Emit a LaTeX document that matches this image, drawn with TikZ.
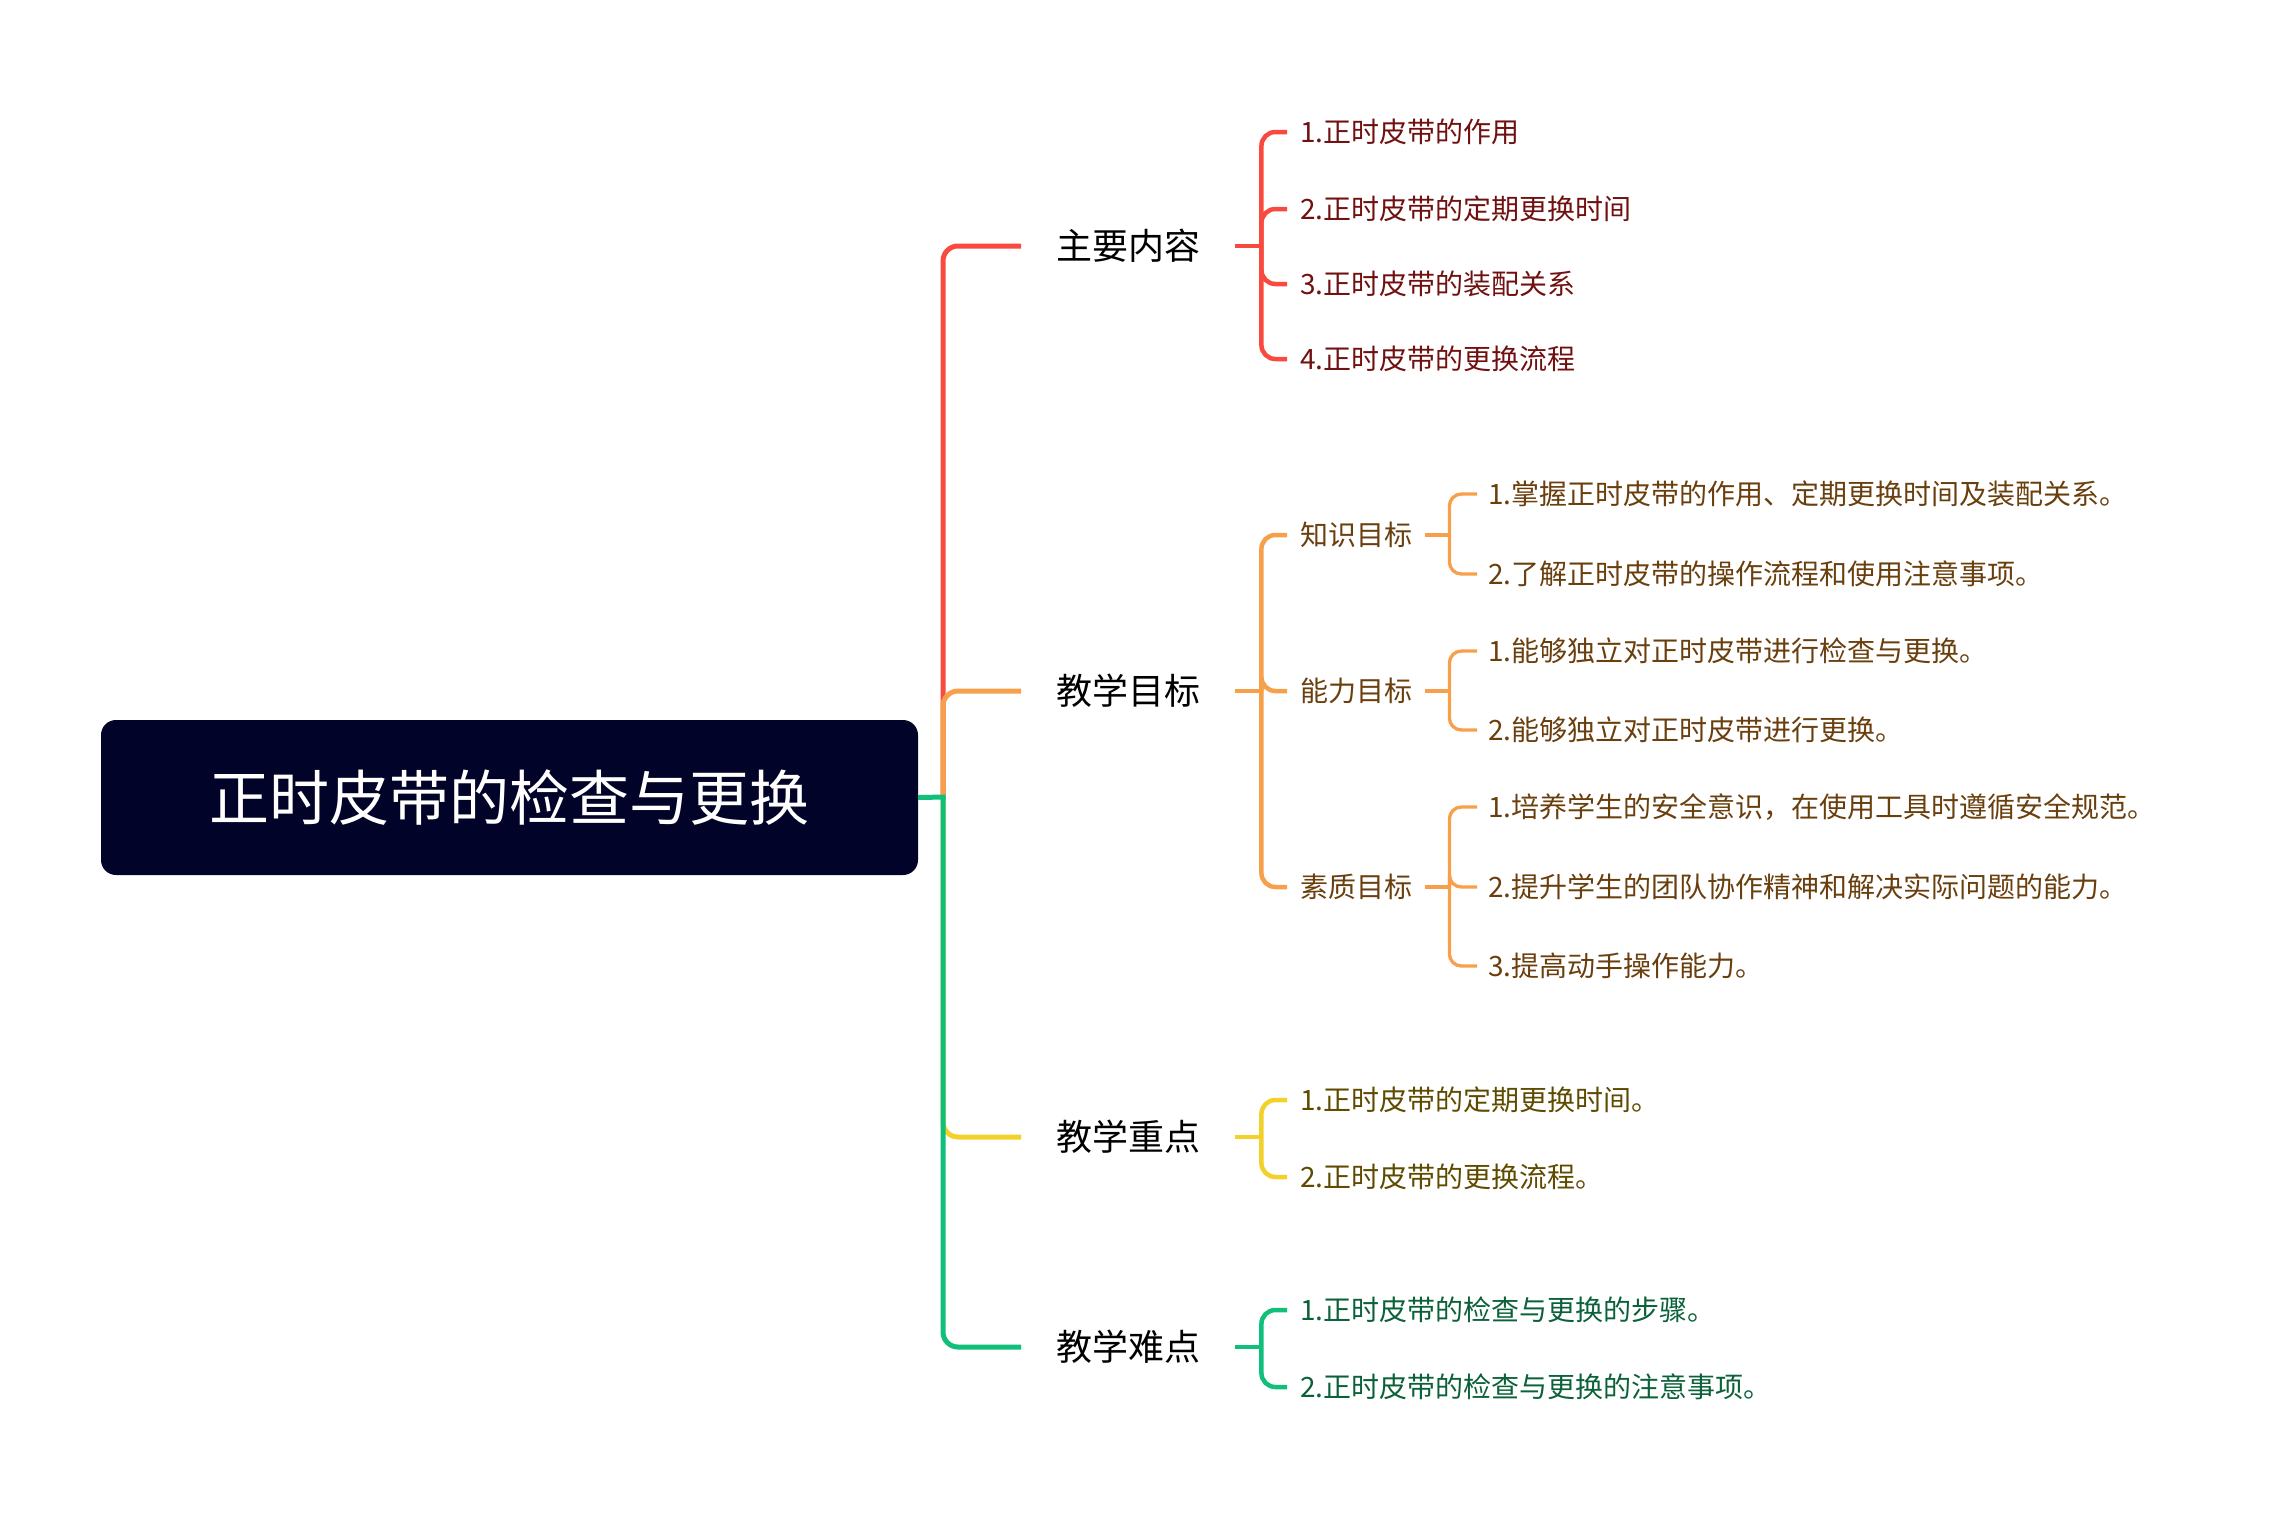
\documentclass[tikz,border=0pt]{standalone}
\usepackage{fontspec}
\setmainfont{Noto Sans CJK SC}
\usetikzlibrary{calc}

\definecolor{mapred}{HTML}{F84A3F}
\definecolor{maporange}{HTML}{F7A04B}
\definecolor{mapyellow}{HTML}{F3D12B}
\definecolor{mapgreen}{HTML}{10BF7A}
\definecolor{rootfill}{HTML}{020328}
\definecolor{redtext}{HTML}{701010}
\definecolor{orangetext}{HTML}{6A3F0E}
\definecolor{yellowtext}{HTML}{5E4B00}
\definecolor{greentext}{HTML}{0B6139}

\tikzset{
  rootbox/.style={fill=rootfill, rounded corners=15pt, minimum width=817pt,
    minimum height=155pt, text=white, font=\fontsize{60}{70}\selectfont},
  topic/.style={anchor=west, inner sep=0pt, text height=31.7pt, text depth=4.3pt,
    font=\fontsize{36}{40}\selectfont},
  leaf/.style={anchor=west, inner sep=0pt, text height=24.6pt, text depth=3.4pt,
    font=\fontsize{28}{31}\selectfont},
  trunkline/.style={line width=5pt, rounded corners=15pt},
  subline/.style={line width=4.5pt, rounded corners=14pt},
  leafline/.style={line width=3.3pt, rounded corners=12pt},
}

\begin{document}
\begin{tikzpicture}[x=1pt, y=-1pt]
  \useasboundingbox (0,0) rectangle (2272,1520);

  % root and hub
  \node[rootbox] (root) at (509.5,797.5) {正时皮带的检查与更换};
  \coordinate (hub) at (943,797);

  % main topics
  \node[topic] (zhuyao) at (1056,246) {主要内容};
  \node[topic] (mubiao) at (1056,691) {教学目标};
  \node[topic] (zhongdian) at (1056,1137) {教学重点};
  \node[topic] (nandian) at (1056,1347) {教学难点};

  \draw [trunkline, mapred]    (hub) |- ([xshift=-35pt]zhuyao.west);
  \draw [trunkline, maporange] (hub) |- ([xshift=-35pt]mubiao.west);
  \draw [trunkline, mapyellow] (hub) |- ([xshift=-35pt]zhongdian.west);
  \draw [line width=5pt, mapgreen] (root.east) -- ([xshift=2.5pt]hub);
  \draw [trunkline, mapgreen]  (hub) |- ([xshift=-35pt]nandian.west);

  % 主要内容
  \node[leaf, text=redtext] (zy1) at (1300,132) {1.正时皮带的作用};
  \node[leaf, text=redtext] (zy2) at (1300,209) {2.正时皮带的定期更换时间};
  \node[leaf, text=redtext] (zy3) at (1300,284) {3.正时皮带的装配关系};
  \node[leaf, text=redtext] (zy4) at (1300,359) {4.正时皮带的更换流程};
  \coordinate (zyB) at ([xshift=61pt]zhuyao.east);
  \draw [subline, mapred] ([xshift=35pt]zhuyao.east) -- (zyB);
  \draw [subline, mapred] (zyB) |- ([xshift=-13pt]zy1.west);
  \draw [subline, mapred] (zyB) |- ([xshift=-13pt]zy2.west);
  \draw [subline, mapred] (zyB) |- ([xshift=-13pt]zy3.west);
  \draw [subline, mapred] (zyB) |- ([xshift=-13pt]zy4.west);

  % 教学目标
  \node[leaf, text=orangetext] (zhishi) at (1300,535) {知识目标};
  \node[leaf, text=orangetext] (nengli) at (1300,691) {能力目标};
  \node[leaf, text=orangetext] (suzhi) at (1300,887) {素质目标};
  \coordinate (mbB) at ([xshift=61pt]mubiao.east);
  \draw [subline, maporange] ([xshift=35pt]mubiao.east) -- (mbB);
  \draw [subline, maporange] (mbB) |- ([xshift=-13pt]zhishi.west);
  \draw [subline, maporange] (mbB) |- ([xshift=-13pt]nengli.west);
  \draw [subline, maporange] (mbB) |- ([xshift=-13pt]suzhi.west);

  \node[leaf, text=orangetext] (zs1) at (1488,494) {1.掌握正时皮带的作用、定期更换时间及装配关系。};
  \node[leaf, text=orangetext] (zs2) at (1488,574) {2.了解正时皮带的操作流程和使用注意事项。};
  \node[leaf, text=orangetext] (nl1) at (1488,651) {1.能够独立对正时皮带进行检查与更换。};
  \node[leaf, text=orangetext] (nl2) at (1488,730) {2.能够独立对正时皮带进行更换。};
  \node[leaf, text=orangetext] (sz1) at (1488,807) {1.培养学生的安全意识，在使用工具时遵循安全规范。};
  \node[leaf, text=orangetext] (sz2) at (1488,887) {2.提升学生的团队协作精神和解决实际问题的能力。};
  \node[leaf, text=orangetext] (sz3) at (1488,966) {3.提高动手操作能力。};

  \coordinate (zsB) at ([xshift=37pt]zhishi.east);
  \draw [leafline, maporange] ([xshift=13pt]zhishi.east) -- (zsB);
  \draw [leafline, maporange] (zsB) |- ([xshift=-11pt]zs1.west);
  \draw [leafline, maporange] (zsB) |- ([xshift=-11pt]zs2.west);

  \coordinate (nlB) at ([xshift=37pt]nengli.east);
  \draw [leafline, maporange] ([xshift=13pt]nengli.east) -- (nlB);
  \draw [leafline, maporange] (nlB) |- ([xshift=-11pt]nl1.west);
  \draw [leafline, maporange] (nlB) |- ([xshift=-11pt]nl2.west);

  \coordinate (szB) at ([xshift=37pt]suzhi.east);
  \draw [leafline, maporange] ([xshift=13pt]suzhi.east) -- (szB);
  \draw [leafline, maporange] (szB) |- ([xshift=-11pt]sz1.west);
  \draw [leafline, maporange] (szB) |- ([xshift=-11pt]sz2.west);
  \draw [leafline, maporange] (szB) |- ([xshift=-11pt]sz3.west);

  % 教学重点
  \node[leaf, text=yellowtext] (zd1) at (1300,1100) {1.正时皮带的定期更换时间。};
  \node[leaf, text=yellowtext] (zd2) at (1300,1177) {2.正时皮带的更换流程。};
  \coordinate (zdB) at ([xshift=61pt]zhongdian.east);
  \draw [subline, mapyellow] ([xshift=35pt]zhongdian.east) -- (zdB);
  \draw [subline, mapyellow] (zdB) |- ([xshift=-13pt]zd1.west);
  \draw [subline, mapyellow] (zdB) |- ([xshift=-13pt]zd2.west);

  % 教学难点
  \node[leaf, text=greentext] (nd1) at (1300,1310) {1.正时皮带的检查与更换的步骤。};
  \node[leaf, text=greentext] (nd2) at (1300,1387) {2.正时皮带的检查与更换的注意事项。};
  \coordinate (ndB) at ([xshift=61pt]nandian.east);
  \draw [subline, mapgreen] ([xshift=35pt]nandian.east) -- (ndB);
  \draw [subline, mapgreen] (ndB) |- ([xshift=-13pt]nd1.west);
  \draw [subline, mapgreen] (ndB) |- ([xshift=-13pt]nd2.west);
\end{tikzpicture}
\end{document}
